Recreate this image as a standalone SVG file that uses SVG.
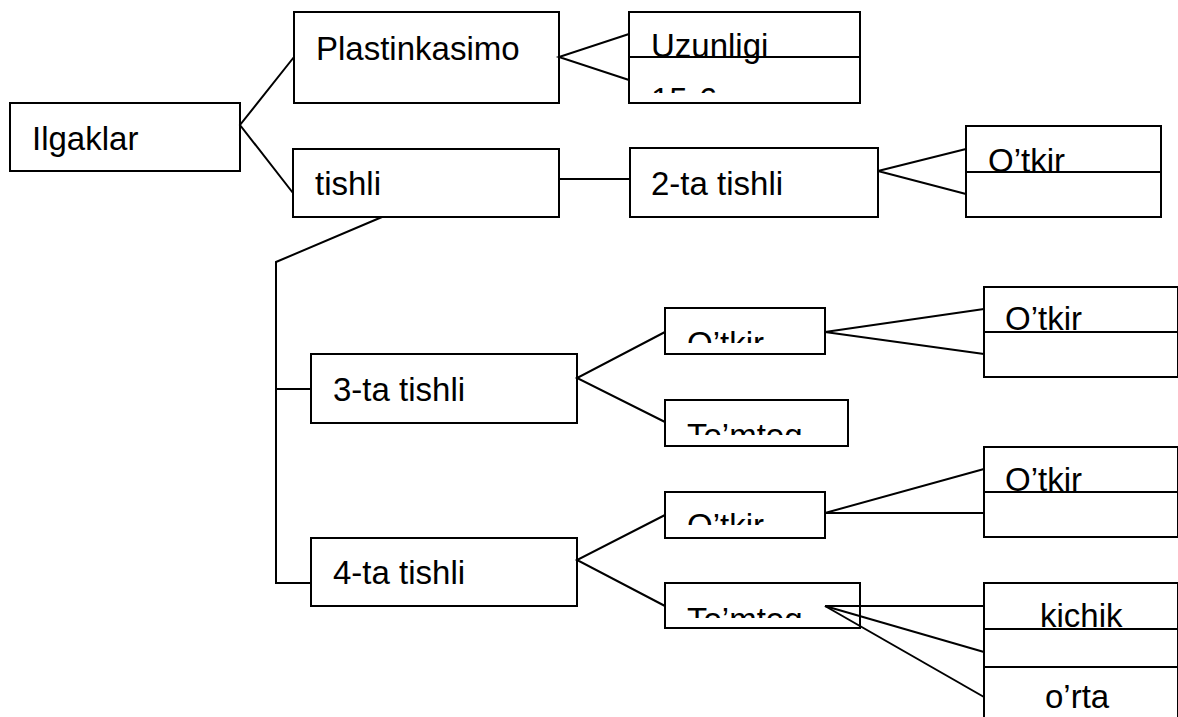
<svg xmlns="http://www.w3.org/2000/svg" width="1178" height="717" viewBox="0 0 1178 717">
<style>
.box{fill:#fff;stroke:#000;stroke-width:2}
.div{stroke:#000;stroke-width:2}
.t{font-family:"Liberation Sans",Arial,sans-serif;font-size:33px;fill:#000}
.c{fill:none;stroke:#000;stroke-width:2}
</style>
<defs>
<clipPath id="cU"><rect x="629" y="12" width="231" height="81"/></clipPath>
<clipPath id="cO1"><rect x="665" y="308" width="160" height="35"/></clipPath>
<clipPath id="cT1"><rect x="665" y="400" width="183" height="35"/></clipPath>
<clipPath id="cO2"><rect x="665" y="492" width="160" height="33"/></clipPath>
<clipPath id="cT2"><rect x="665" y="583" width="195" height="35"/></clipPath>
</defs>
<rect width="1178" height="717" fill="#fff"/>
<g id="n-ilgaklar"><rect class="box" x="10" y="103" width="230" height="68"/><text class="t" x="32" y="150">Ilgaklar</text></g>
<g id="n-plastinka"><rect class="box" x="294" y="12" width="265" height="91"/><text class="t" x="316" y="60">Plastinkasimo</text></g>
<g id="n-uzunligi"><rect class="box" x="629" y="12" width="231" height="91"/><line class="div" x1="629" y1="57" x2="860" y2="57"/><text class="t" x="651" y="57">Uzunligi</text><text class="t" x="651" y="111" clip-path="url(#cU)">15-6 sm</text></g>
<g id="n-tishli"><rect class="box" x="293" y="149" width="266" height="68"/><text class="t" x="315" y="195">tishli</text></g>
<g id="n-2ta"><rect class="box" x="630" y="148" width="248" height="69"/><text class="t" x="651" y="195">2-ta tishli</text></g>
<g id="n-otkir0"><rect class="box" x="966" y="126" width="195" height="91"/><line class="div" x1="966" y1="172" x2="1161" y2="172"/><text class="t" x="988" y="172">O’tkir</text></g>
<g id="n-3ta"><rect class="box" x="311" y="354" width="266" height="69"/><text class="t" x="333" y="401">3-ta tishli</text></g>
<g id="n-otkir1"><rect class="box" x="665" y="308" width="160" height="46"/><text class="t" x="687" y="355" clip-path="url(#cO1)">O’tkir</text></g>
<g id="n-tomtoq1"><rect class="box" x="665" y="400" width="183" height="46"/><text class="t" x="687" y="447" clip-path="url(#cT1)">To’mtoq</text></g>
<g id="n-otkir1r"><rect class="box" x="984" y="287" width="194" height="90"/><line class="div" x1="984" y1="332" x2="1178" y2="332"/><text class="t" x="1005" y="330">O’tkir</text></g>
<g id="n-4ta"><rect class="box" x="311" y="538" width="266" height="68"/><text class="t" x="333" y="584">4-ta tishli</text></g>
<g id="n-otkir2"><rect class="box" x="665" y="492" width="160" height="46"/><text class="t" x="687" y="537" clip-path="url(#cO2)">O’tkir</text></g>
<g id="n-tomtoq2"><rect class="box" x="665" y="583" width="195" height="45"/><text class="t" x="687" y="631" clip-path="url(#cT2)">To’mtoq</text></g>
<g id="n-otkir2r"><rect class="box" x="984" y="447" width="194" height="90"/><line class="div" x1="984" y1="492" x2="1178" y2="492"/><text class="t" x="1005" y="491">O’tkir</text></g>
<g id="n-kichik"><rect class="box" x="984" y="583" width="194" height="140"/><line class="div" x1="984" y1="629" x2="1178" y2="629"/><line class="div" x1="984" y1="667" x2="1178" y2="667"/><text class="t" x="1040" y="627">kichik</text><text class="t" x="1045" y="708">o’rta</text></g>
<g id="connectors">
<polyline class="c" points="294,57 240,125 293,193"/>
<polyline class="c" points="629,34 559,57 629,80"/>
<line class="c" x1="559" y1="179" x2="630" y2="179"/>
<polyline class="c" points="966,149 878,171 966,194"/>
<polyline class="c" points="382,217 276,262 276,583 311,583"/>
<line class="c" x1="276" y1="389" x2="311" y2="389"/>
<polyline class="c" points="665,332 577,378 665,422"/>
<polyline class="c" points="984,309 825,332 984,354"/>
<polyline class="c" points="665,515 577,560 665,606"/>
<polyline class="c" points="984,469 825,513 984,513"/>
<line class="c" x1="825" y1="606" x2="984" y2="606"/>
<line class="c" x1="825" y1="606" x2="984" y2="652"/>
<line class="c" x1="825" y1="606" x2="984" y2="697"/>
</g>
</svg>
